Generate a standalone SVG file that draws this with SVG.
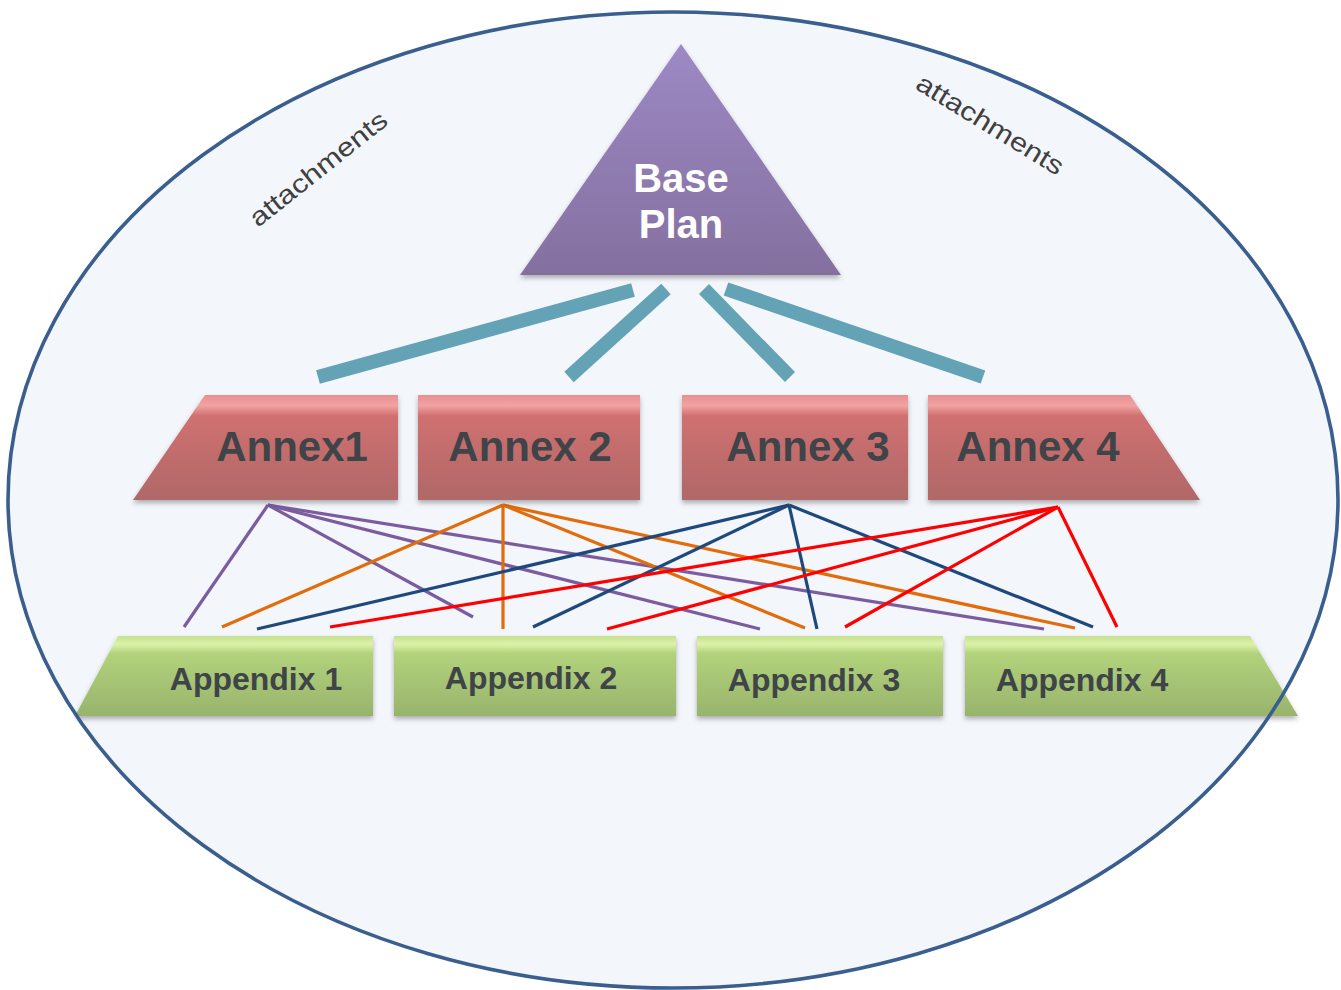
<svg xmlns="http://www.w3.org/2000/svg" width="1341" height="990" viewBox="0 0 1341 990">
<defs>
<linearGradient id="gTri" x1="0" y1="0" x2="0" y2="1">
<stop offset="0" stop-color="#9d89c4"/><stop offset="1" stop-color="#84709f"/>
</linearGradient>
<linearGradient id="gAnnex" x1="0" y1="0" x2="0" y2="1">
<stop offset="0" stop-color="#e89090"/><stop offset="0.1" stop-color="#f2a2a2"/><stop offset="0.2" stop-color="#d07070"/><stop offset="1" stop-color="#b06868"/>
</linearGradient>
<linearGradient id="gApp" x1="0" y1="0" x2="0" y2="1">
<stop offset="0" stop-color="#c4e08e"/><stop offset="0.1" stop-color="#ddf2a8"/><stop offset="0.22" stop-color="#b2d27c"/><stop offset="1" stop-color="#98b46c"/>
</linearGradient>
<filter id="sh" x="-5%" y="-5%" width="110%" height="125%">
<feDropShadow dx="0" dy="3" stdDeviation="2.5" flood-color="#000" flood-opacity="0.3"/>
</filter>
<style>
.annex{fill:url(#gAnnex);filter:url(#sh)}
.app{fill:url(#gApp);filter:url(#sh)}
.at{font-family:"Liberation Sans",Arial,sans-serif;font-weight:bold;font-size:42px;fill:#3f4448;text-anchor:middle}
.pt{font-family:"Liberation Sans",Arial,sans-serif;font-weight:bold;font-size:32px;fill:#3f4448;text-anchor:middle}
.bt{font-family:"Liberation Sans",Arial,sans-serif;font-weight:bold;font-size:40px;fill:#ffffff;text-anchor:middle}
.att{font-family:"Liberation Sans",Arial,sans-serif;font-size:26px;fill:#404040}
.teal{stroke:#63a3b5;stroke-width:14;fill:none}
.ln{stroke-width:3.2;fill:none}
.pu{stroke:#7b5c9f}.or{stroke:#e36c0a}.nv{stroke:#1f497d}.rd{stroke:#ff0000}
</style>
</defs>
<ellipse cx="673" cy="500" rx="665" ry="488" fill="#f3f6fb"/>
<g id="attach-left"><text class="att" transform="translate(258,228) rotate(-38.5)" textLength="168" lengthAdjust="spacingAndGlyphs">attachments</text></g>
<g id="attach-right"><text class="att" transform="translate(914,88) rotate(31.6)" textLength="168" lengthAdjust="spacingAndGlyphs">attachments</text></g>
<g id="base-plan">
<polygon points="681,44 520,275 841,275" fill="url(#gTri)" filter="url(#sh)"/>
<text class="bt" x="681" y="192">Base</text>
<text class="bt" x="681" y="238">Plan</text>
</g>
<g id="connectors">
<line class="teal" x1="318" y1="377" x2="633" y2="290"/>
<line class="teal" x1="569" y1="377" x2="666" y2="289"/>
<line class="teal" x1="704" y1="289" x2="790" y2="377"/>
<line class="teal" x1="726" y1="289" x2="983" y2="377"/>
<g class="ln pu">
<line x1="268" y1="505" x2="184" y2="627"/><line x1="268" y1="505" x2="473" y2="617"/><line x1="268" y1="505" x2="760" y2="629"/><line x1="268" y1="505" x2="1044" y2="629"/>
</g>
<g class="ln or">
<line x1="503" y1="505" x2="222" y2="627"/><line x1="503" y1="505" x2="503" y2="629"/><line x1="503" y1="505" x2="805" y2="628"/><line x1="503" y1="505" x2="1075" y2="628"/>
</g>
<g class="ln nv">
<line x1="789" y1="505" x2="257" y2="629"/><line x1="789" y1="505" x2="533" y2="627"/><line x1="789" y1="505" x2="817" y2="629"/><line x1="789" y1="505" x2="1093" y2="627"/>
</g>
<g class="ln rd">
<line x1="1058" y1="507" x2="330" y2="627"/><line x1="1058" y1="507" x2="607" y2="629"/><line x1="1058" y1="507" x2="845" y2="627"/><line x1="1058" y1="507" x2="1117" y2="627"/>
</g>
</g>
<g id="annex1"><polygon class="annex" points="205,395 398,395 398,500 133,500"/><text class="at" x="292" y="461">Annex1</text></g>
<g id="annex2"><rect class="annex" x="418" y="395" width="222" height="105"/><text class="at" x="530" y="461">Annex 2</text></g>
<g id="annex3"><rect class="annex" x="682" y="395" width="226" height="105"/><text class="at" x="808" y="461">Annex 3</text></g>
<g id="annex4"><polygon class="annex" points="928,395 1130,395 1200,500 928,500"/><text class="at" x="1038" y="461">Annex 4</text></g>
<g id="appendix1"><polygon class="app" points="118,636 373,636 373,716 75,716"/><text class="pt" x="256" y="690">Appendix 1</text></g>
<g id="appendix2"><rect class="app" x="394" y="636" width="282" height="80"/><text class="pt" x="531" y="689">Appendix 2</text></g>
<g id="appendix3"><rect class="app" x="697" y="636" width="246" height="80"/><text class="pt" x="814" y="691">Appendix 3</text></g>
<g id="appendix4"><polygon class="app" points="965,636 1250,636 1298,716 965,716"/><text class="pt" x="1082" y="691">Appendix 4</text></g>
<ellipse cx="673" cy="500" rx="665" ry="488" fill="none" stroke="#3a5e8e" stroke-width="3.6"/>
</svg>
